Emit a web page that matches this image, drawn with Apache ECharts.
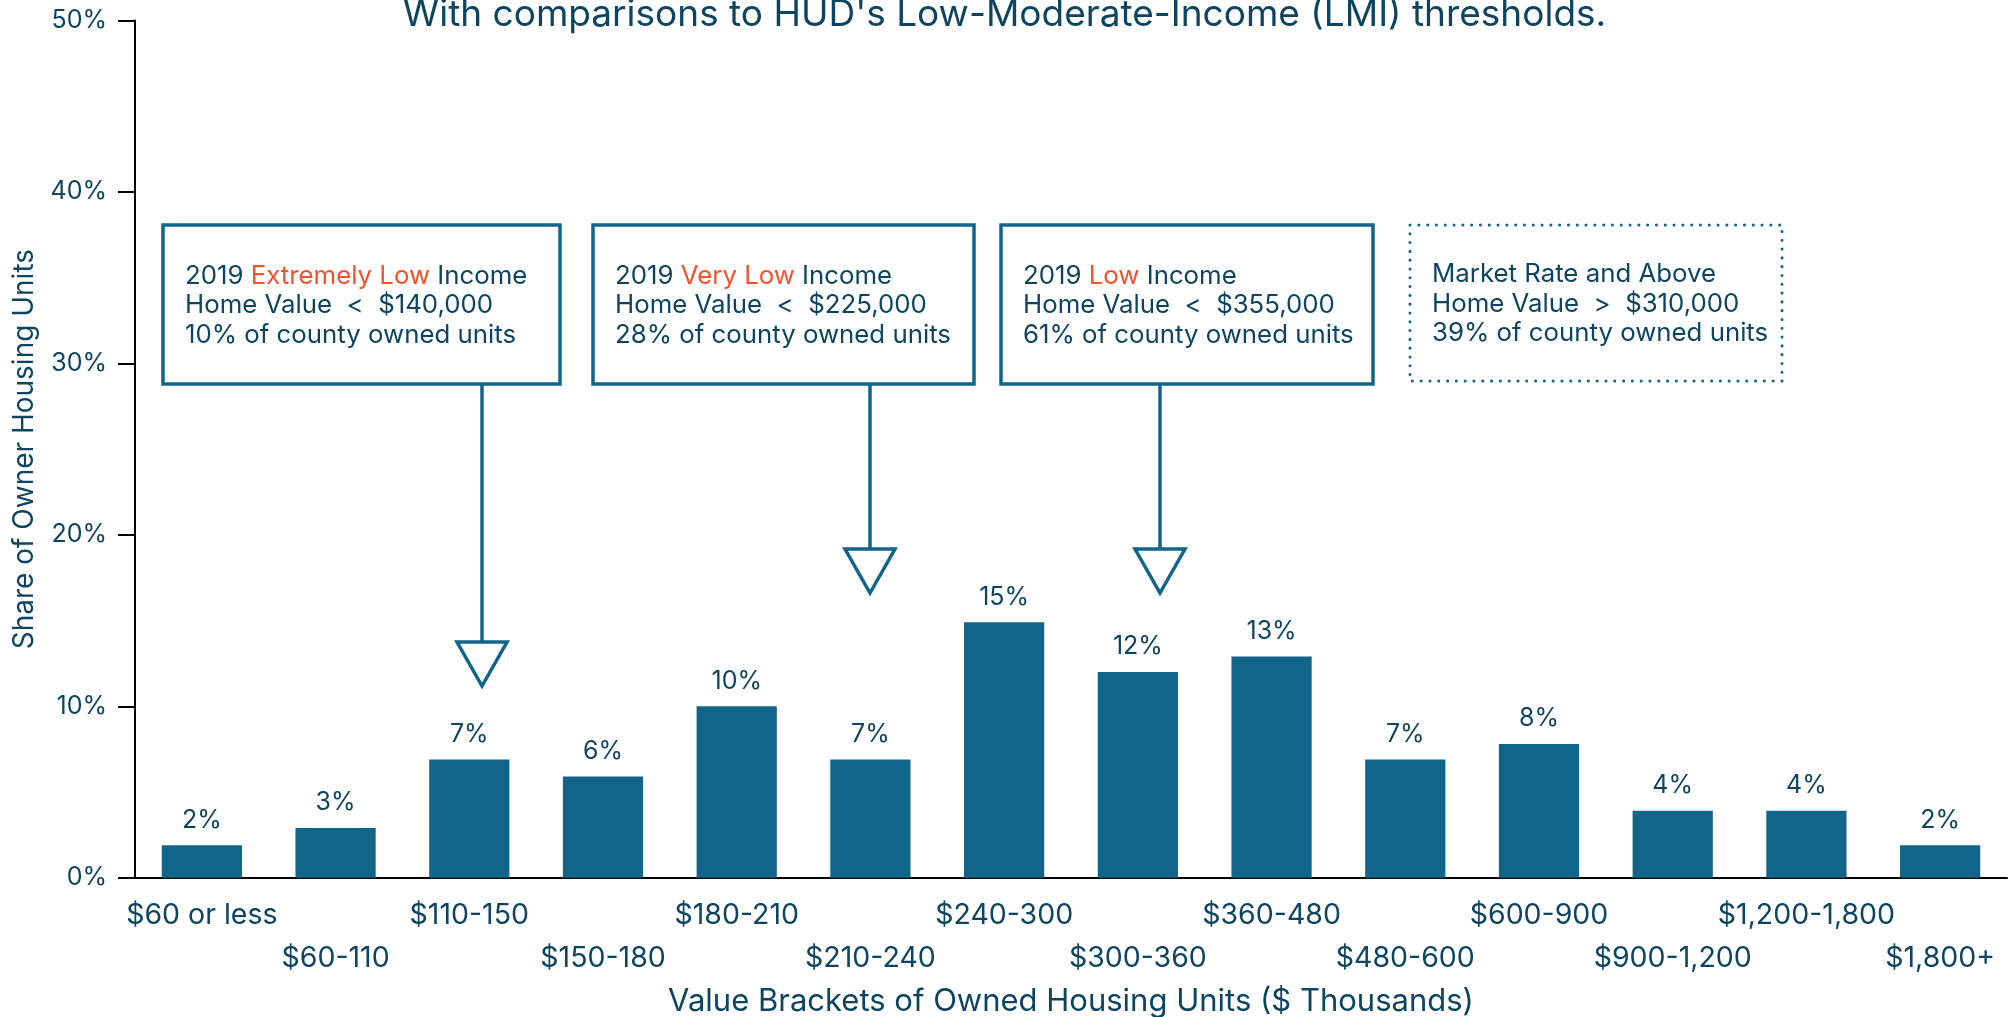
<!DOCTYPE html>
<html>
<head>
<meta charset="utf-8">
<script src="https://cdn.jsdelivr.net/npm/echarts@6/dist/echarts.min.js"></script>
<style>
  html, body { margin: 0; padding: 0; background: #fff; }
  #main { width: 2009px; height: 1017px; }
</style>
</head>
<body>
<div id="main"></div>
<script>
// value brackets ($ thousands) and share of owner housing units (%)
var categories = ['$60 or less', '$60-110', '$110-150', '$150-180', '$180-210', '$210-240', '$240-300',
    '$300-360', '$360-480', '$480-600', '$600-900', '$900-1,200', '$1,200-1,800', '$1,800+'];
var shares = [1.9, 2.9, 6.9, 5.9, 10.0, 6.9, 14.9, 12.0, 12.9, 6.9, 7.8, 3.9, 3.9, 1.9];

var navy = '#0d4561';
var blue = '#11658b';
var red = '#f4522d';
var font = 'Inter';

// annotation boxes: [left, top, right, bottom, text, dotted]
var boxes = [
    [163, 225, 560, 384, '2019 {r|Extremely Low} Income\nHome Value  <  $140,000\n10% of county owned units', false],
    [593, 225, 974, 384, '2019 {r|Very Low} Income\nHome Value  <  $225,000\n28% of county owned units', false],
    [1001, 225, 1373, 384, '2019 {r|Low} Income\nHome Value  <  $355,000\n61% of county owned units', false],
    [1410, 225, 1782, 381, 'Market Rate and Above\nHome Value  >  $310,000\n39% of county owned units', true]
];
// arrows: [x, top of triangle]
var arrows = [[482, 642], [870, 549], [1160, 549]];

var graphics = [];
boxes.forEach(function (b) {
    graphics.push({
        type: 'rect',
        shape: {x: b[0], y: b[1], width: b[2] - b[0], height: b[3] - b[1]},
        style: b[5]
            ? {fill: '#fff', stroke: blue, lineWidth: 3, lineDash: [0.1, 8.7], lineCap: 'round'}
            : {fill: '#fff', stroke: blue, lineWidth: 3.5}
    });
    graphics.push({
        type: 'text',
        x: b[0] + 22,
        y: (b[1] + b[3]) / 2 + 1,
        style: {
            text: b[4],
            fill: navy,
            fontSize: 25.8,
            fontFamily: font,
            lineHeight: 29.5,
            align: 'left',
            verticalAlign: 'middle',
            rich: {
                r: {fill: red, fontSize: 25.8, fontFamily: font, lineHeight: 29.5}
            }
        }
    });
});
arrows.forEach(function (a) {
    graphics.push({
        type: 'line',
        shape: {x1: a[0], y1: 384, x2: a[0], y2: a[1]},
        style: {stroke: blue, lineWidth: 3.5}
    });
    graphics.push({
        type: 'polygon',
        shape: {points: [[a[0] - 25, a[1]], [a[0] + 25, a[1]], [a[0], a[1] + 44]]},
        style: {fill: '#fff', stroke: blue, lineWidth: 3.5, lineJoin: 'miter'}
    });
});

var myChart = echarts.init(document.getElementById('main'));
var option = {
    backgroundColor: '#ffffff',
    animation: false,
    title: {
        text: "With comparisons to HUD's Low-Moderate-Income (LMI) thresholds.",
        left: 'center',
        top: -4,
        padding: 0,
        textStyle: {color: navy, fontSize: 37, fontWeight: 'normal', fontFamily: font}
    },
    grid: {left: 135, right: 2, top: 20.5, bottom: 139.3, containLabel: false, outerBoundsMode: 'none'},
    xAxis: {
        type: 'category',
        data: categories,
        name: 'Value Brackets of Owned Housing Units ($ Thousands)',
        nameLocation: 'middle',
        nameGap: 108,
        nameTextStyle: {color: navy, fontSize: 31, fontFamily: font},
        axisLine: {lineStyle: {color: '#000', width: 2}},
        axisTick: {alignWithLabel: true, length: 19, lineStyle: {color: '#000', width: 2}},
        axisLabel: {
            interval: 0,
            margin: 16,
            color: navy,
            fontSize: 28.5,
            fontFamily: font,
            lineHeight: 43,
            formatter: function (v, i) { return i % 2 ? '\n' + v : v; }
        }
    },
    yAxis: {
        type: 'value',
        min: 0,
        max: 50,
        interval: 10,
        name: 'Share of Owner Housing Units',
        nameLocation: 'middle',
        nameGap: 96,
        nameTextStyle: {color: navy, fontSize: 28, fontFamily: font},
        axisLine: {show: true, lineStyle: {color: '#000', width: 2}},
        axisTick: {show: true, length: 17, lineStyle: {color: '#000', width: 2}},
        splitLine: {show: false},
        axisLabel: {
            margin: 28,
            color: navy,
            fontSize: 25,
            fontFamily: font,
            formatter: '{value}%'
        }
    },
    series: [{
        type: 'bar',
        data: shares,
        barWidth: '60%',
        itemStyle: {color: blue},
        label: {
            show: true,
            position: 'top',
            distance: 12.5,
            color: navy,
            fontSize: 25,
            fontFamily: font,
            formatter: function (p) { return Math.round(p.value) + '%'; }
        }
    }],
    graphic: graphics
};
myChart.setOption(option);
</script>
</body>
</html>
